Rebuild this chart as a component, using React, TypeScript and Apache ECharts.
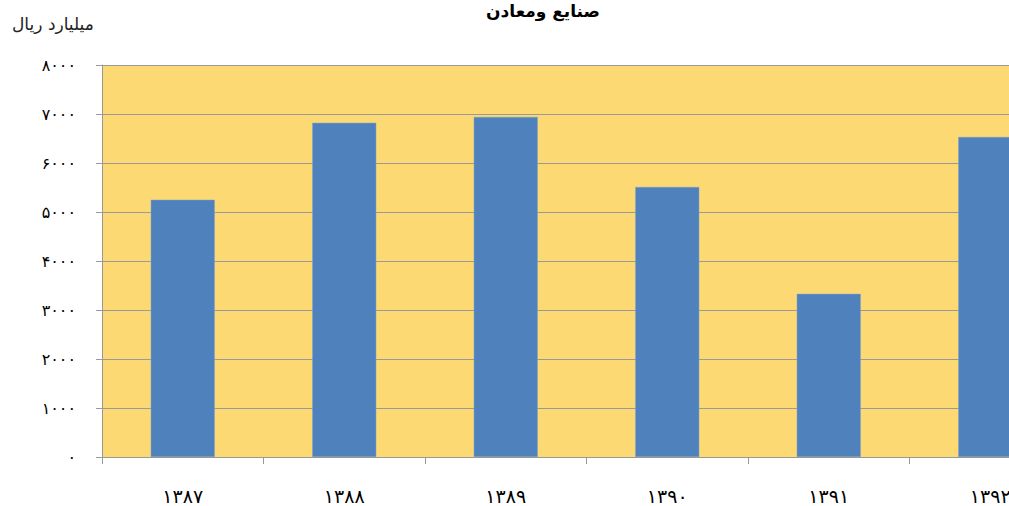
import React, { useEffect, useRef } from "react";
import * as echarts from "echarts";

const categories = ["1387", "1388", "1389", "1390", "1391", "1392"];
const values = [5250, 6820, 6940, 5510, 3330, 6530];
const yTicks = [0, 1000, 2000, 3000, 4000, 5000, 6000, 7000, 8000];
const titleText = "صنایع ومعادن";
const unitText = "میلیارد ریال";

const fa = "۰۱۲۳۴۵۶۷۸۹";
const toFa = (s: string | number) => String(s).replace(/[0-9]/g, (d) => fa[+d]);

const FONT = "'DejaVu Serif', 'DejaVu Sans', serif";

export default function App() {
  const ref = useRef<HTMLDivElement>(null);
  useEffect(() => {
    document.body.style.margin = "0";
    document.body.style.overflow = "hidden";
    document.documentElement.style.overflow = "hidden";
    const chart = echarts.init(ref.current!, null, { renderer: "svg" });
    chart.setOption({
      animation: false,
      backgroundColor: "#ffffff",
      title: {
        text: titleText,
        left: 538,
        textAlign: "center",
        top: -3,
        textStyle: { fontSize: 17, fontWeight: "bold", color: "#000", fontFamily: "'DejaVu Sans', sans-serif" },
      },
      graphic: [
        {
          type: "text",
          left: 12,
          top: 15,
          style: { text: unitText, fontSize: 17, fill: "#222", fontFamily: "'DejaVu Sans', sans-serif" },
        },
      ],
      grid: {
        left: 102,
        top: 65,
        bottom: 49,
        right: 9,
        containLabel: false,
        show: true,
        backgroundColor: "#FCD973",
        borderWidth: 0,
      },
      xAxis: {
        type: "category",
        data: categories,
        axisLine: { show: true, lineStyle: { color: "#999", width: 1 } },
        axisTick: { show: true, alignWithLabel: false, length: 7, lineStyle: { color: "#999" } },
        axisLabel: {
          formatter: (v: string) => toFa(v),
          fontSize: 19,
          color: "#000",
          margin: 29,
          fontFamily: FONT,
        },
      },
      yAxis: {
        type: "value",
        min: yTicks[0],
        max: yTicks[yTicks.length - 1],
        interval: 1000,
        axisLine: { show: true, lineStyle: { color: "#999", width: 1 } },
        axisTick: { show: true, length: 6, lineStyle: { color: "#999" } },
        splitLine: { show: true, lineStyle: { color: "#9a9a9a", width: 1 } },
        axisLabel: {
          formatter: (v: number) => toFa(v),
          fontSize: 16,
          color: "#000",
          margin: 26,
          fontFamily: FONT,
        },
      },
      series: [
        {
          type: "bar",
          data: values,
          barWidth: 64,
          itemStyle: { color: "#4F81BD", borderColor: "#7FA0CC", borderWidth: 0.5 },
        },
      ],
    });
    return () => chart.dispose();
  }, []);
  return <div ref={ref} style={{ position: "absolute", left: 0, top: 0, width: 1080, height: 506 }} />;
}
